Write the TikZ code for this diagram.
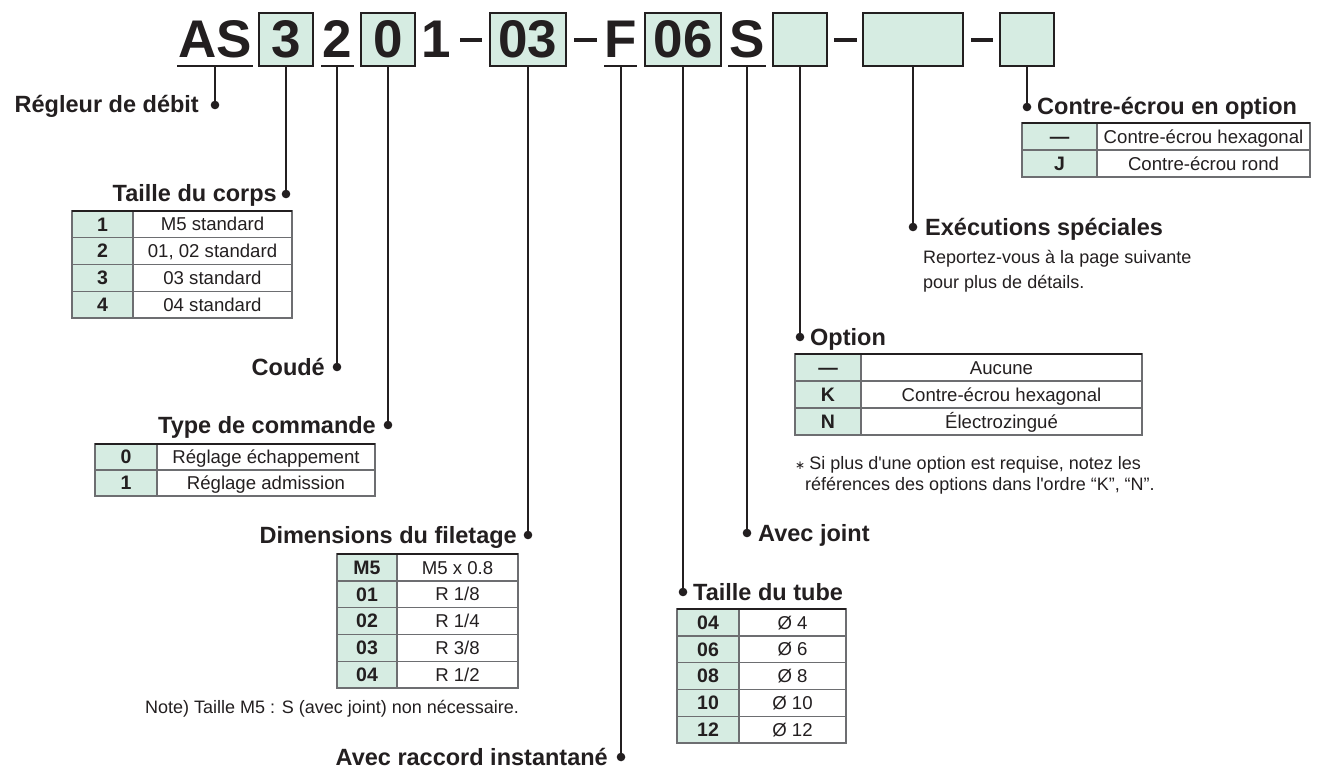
\documentclass[tikz,border=0pt]{standalone}
\usepackage{fontspec}
\setmainfont{Liberation Sans}
\newfontfamily\djv{DejaVu Sans}
\definecolor{ink}{HTML}{231F20}
\definecolor{boxgreen}{RGB}{214,236,226}
\definecolor{gridc}{HTML}{6D6E71}
% #1 name, #2 x left, #3 x split, #4 x right, #5 y top, #6 y bottom, #7 key, #8 value
\newcommand\trow[8]{%
  \path[fill=boxgreen] (#2,#5) rectangle (#3,#6);
  \draw[grid] (#2,#5) rectangle (#4,#6);
  \draw[grid] (#3,#5) -- (#3,#6);
  \node[tkey] (#1k) at ({(#2+#3)/2},{(#5+#6)/2+6.8}) {#7};
  \node[tval] (#1v) at ({(#3+#4)/2},{(#5+#6)/2+6.6}) {#8};
}
\begin{document}
\begin{tikzpicture}[x=1pt,y=-1pt,
  code/.style={font=\fontsize{53}{53}\selectfont\bfseries, text=ink, inner sep=0, anchor=base},
  cbox/.style={draw=ink, line width=2pt, fill=boxgreen, inner sep=0, outer sep=0, minimum height=53pt},
  uline/.style={draw=ink, line width=2pt},
  cdash/.style={draw=ink, line width=3.6pt},
  conn/.style={draw=ink, line width=2pt},
  lbl/.style={font=\fontsize{23.5}{26}\selectfont\bfseries, text=ink, inner sep=0},
  note/.style={font=\fontsize{18}{22}\selectfont, text=ink, inner sep=0, anchor=base west},
  tkey/.style={font=\fontsize{19.5}{20}\selectfont\bfseries, text=ink, inner sep=0, anchor=base},
  tval/.style={font=\fontsize{18.6}{20}\selectfont, text=ink, inner sep=0, anchor=base},
  grid/.style={draw=gridc, line width=1.4pt},
  ttop/.style={draw=ink, line width=2.4pt},
  dotc/.style={fill=ink},
]
\useasboundingbox[fill=white] (0,0) rectangle (1330,778);

% ---------- code boxes ----------
\node[cbox, minimum width=54pt]  (b3)    at (286,39.5) {};
\node[cbox, minimum width=54pt]  (b0)    at (388,39.5) {};
\node[cbox, minimum width=76pt]  (b03)   at (528,39.5) {};
\node[cbox, minimum width=76pt]  (b06)   at (683,39.5) {};
\node[cbox, minimum width=54pt]  (bopt)  at (800,39.5) {};
\node[cbox, minimum width=100pt] (bspec) at (913,39.5) {};
\node[cbox, minimum width=54pt]  (bnut)  at (1027,39.5) {};

% ---------- code letters ----------
\node[code] (tAS) at (215,58) {AS};
\node[code] (t3)  at (286,58) {3};
\node[code] (t2)  at (337,58) {2};
\node[code] (t0)  at (388,58) {0};
\node[code] (t1)  at (436,58) {1};
\node[code] (t03) at (528,58) {03};
\node[code] (tF)  at (621,58) {F};
\node[code] (t06) at (683,58) {06};
\node[code] (tS)  at (747,58) {S};

% dashes
\draw[cdash] (460,40) -- (482,40);
\draw[cdash] (574,40) -- (597,40);
\draw[cdash] (834,40) -- (857,40);
\draw[cdash] (971,40) -- (993,40);

% underlines
\draw[uline] (177,66) -- (253,66);
\draw[uline] (321,66) -- (354,66);
\draw[uline] (604,66) -- (637,66);
\draw[uline] (728,66) -- (766,66);
\coordinate (uAS) at (215,66);
\coordinate (u2)  at (337,66);
\coordinate (uF)  at (621,66);
\coordinate (uS)  at (747,66);

% ---------- dots ----------
\coordinate (dReg)   at (215,105);
\coordinate (dCorps) at (286,194);
\coordinate (dCoude) at (337,367);
\coordinate (dType)  at (388,425);
\coordinate (dDim)   at (528,535);
\coordinate (dRac)   at (621,757);
\coordinate (dTube)  at (683,592);
\coordinate (dJoint) at (747,533);
\coordinate (dOpt)   at (800,337);
\coordinate (dSpec)  at (913,227);
\coordinate (dNut)   at (1027,107);

% connectors
\draw[conn] (uAS) -- (dReg);
\draw[conn] (b3.south) -- (dCorps);
\draw[conn] (u2) -- (dCoude);
\draw[conn] (b0.south) -- (dType);
\draw[conn] (b03.south) -- (dDim);
\draw[conn] (uF) -- (dRac);
\draw[conn] (b06.south) -- (dTube);
\draw[conn] (uS) -- (dJoint);
\draw[conn] (bopt.south) -- (dOpt);
\draw[conn] (bspec.south) -- (dSpec);
\draw[conn] (bnut.south) -- (dNut);

\foreach \d in {dReg,dCorps,dCoude,dType,dDim,dRac,dTube,dJoint,dOpt,dSpec,dNut}
  \fill[dotc] (\d) circle (4.3);

% ---------- labels ----------
\node[lbl, anchor=base east] (lReg)   at (199,113) {Régleur de débit};
\node[lbl, anchor=base east] (lCorps) at (277,202) {Taille du corps};
\node[lbl, anchor=base east] (lCoude) at (325,375) {Coudé};
\node[lbl, anchor=base east] (lType)  at (376,433) {Type de commande};
\node[lbl, anchor=base east] (lDim)   at (517,543) {Dimensions du filetage};
\node[lbl, anchor=base east] (lRac)   at (608,765) {Avec raccord instantané};
\node[lbl, anchor=base west] (lTube)  at (693,600) {Taille du tube};
\node[lbl, anchor=base west] (lJoint) at (758,541) {Avec joint};
\node[lbl, anchor=base west] (lOpt)   at (810,345) {Option};
\node[lbl, anchor=base west] (lSpec)  at (925,235) {Exécutions spéciales};
\node[lbl, anchor=base west] (lNut)   at (1037,115) {Contre-écrou en option};

% ---------- tables ----------
% Taille du corps
\trow{A1}{72}{133}{292}{211}{237.75}{1}{M5 standard}
\trow{A2}{72}{133}{292}{237.75}{264.5}{2}{01, 02 standard}
\trow{A3}{72}{133}{292}{264.5}{291.25}{3}{03 standard}
\trow{A4}{72}{133}{292}{291.25}{318}{4}{04 standard}
\draw[ttop] (72,211) -- (292,211);

% Type de commande
\trow{B1}{95}{157}{375}{444}{470}{0}{Réglage échappement}
\trow{B2}{95}{157}{375}{470}{496}{1}{Réglage admission}
\draw[ttop] (95,444) -- (375,444);

% Dimensions du filetage
\trow{C1}{337}{397}{518}{554}{580.8}{M5}{M5 x 0.8}
\trow{C2}{337}{397}{518}{580.8}{607.6}{01}{R 1/8}
\trow{C3}{337}{397}{518}{607.6}{634.4}{02}{R 1/4}
\trow{C4}{337}{397}{518}{634.4}{661.2}{03}{R 3/8}
\trow{C5}{337}{397}{518}{661.2}{688}{04}{R 1/2}
\draw[ttop] (337,554) -- (518,554);
\node[note] (nDim) at (145,713) {Note) Taille M5 : S (avec joint) non nécessaire.};

% Taille du tube
\trow{D1}{677}{739}{846}{609}{635.8}{04}{Ø 4}
\trow{D2}{677}{739}{846}{635.8}{662.6}{06}{Ø 6}
\trow{D3}{677}{739}{846}{662.6}{689.4}{08}{Ø 8}
\trow{D4}{677}{739}{846}{689.4}{716.2}{10}{Ø 10}
\trow{D5}{677}{739}{846}{716.2}{743}{12}{Ø 12}
\draw[ttop] (677,609) -- (846,609);

% Option
\trow{E1}{795}{861}{1142}{354}{381}{—}{Aucune}
\trow{E2}{795}{861}{1142}{381}{408}{K}{Contre-écrou hexagonal}
\trow{E3}{795}{861}{1142}{408}{435}{N}{Électrozingué}
\draw[ttop] (795,354) -- (1142,354);
\node[note] (nOpt1) at (795,469) {{\djv\fontsize{12}{12}\selectfont ∗}\hspace{4pt}Si plus d\textquotesingle une option est requise, notez les};
\node[note] (nOpt2) at (805,490) {références des options dans l\textquotesingle ordre “K”, “N”.};

% Exécutions spéciales
\node[note] (nSpec1) at (923,263) {Reportez-vous à la page suivante};
\node[note] (nSpec2) at (923,288) {pour plus de détails.};

% Contre-écrou en option
\trow{F1}{1022}{1097}{1310}{123}{150}{—}{Contre-écrou hexagonal}
\trow{F2}{1022}{1097}{1310}{150}{177}{J}{Contre-écrou rond}
\draw[ttop] (1022,123) -- (1310,123);
\end{tikzpicture}
\end{document}
